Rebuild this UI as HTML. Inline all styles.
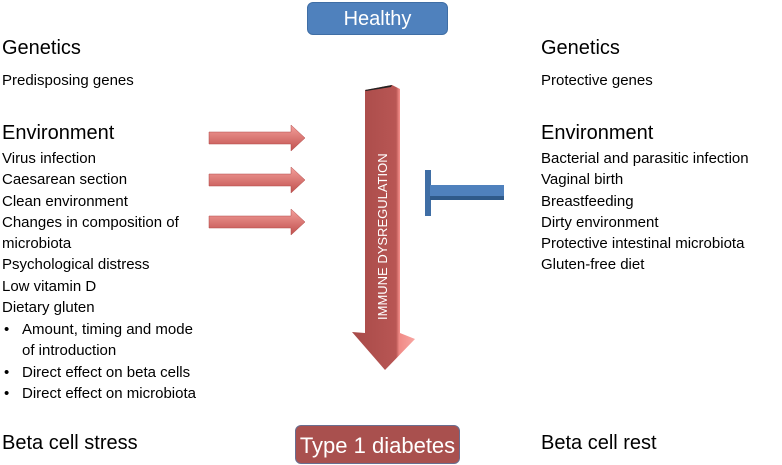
<!DOCTYPE html><html><head><style>
body{margin:0;width:782px;height:465px;background:#fff;position:relative;overflow:hidden;font-family:"Liberation Sans",sans-serif;color:#000}
.t{position:absolute;white-space:nowrap}
.h{font-size:20px}.b{font-size:15px}
</style></head><body>
<div class="t" style="left:307px;top:2px;width:141px;height:33px;background:#4f81bd;border-radius:6px;color:#fff;font-size:20px;text-align:center;line-height:33px;border:1px solid #3f6ea5;box-sizing:border-box">Healthy</div>
<div class="t" style="left:295px;top:425px;width:165px;height:39px;background:#a9504e;border-radius:6px;color:#fff;font-size:22px;text-align:center;line-height:39px;border:1px solid #6a6e90;box-sizing:border-box">Type 1 diabetes</div>

<div class="t h" style="left:2px;top:37px">Genetics</div>
<div class="t b" style="left:2px;top:72px">Predisposing genes</div>
<div class="t h" style="left:2px;top:122px">Environment</div>
<div class="t b" style="left:2px;top:148px;line-height:21.3px">Virus infection<br>Caesarean section<br>Clean environment<br>Changes in composition of<br>microbiota<br>Psychological distress<br>Low vitamin D<br>Dietary gluten</div>
<div class="t b" style="left:4px;top:319px;line-height:21.3px">•<br><br>•<br>•</div>
<div class="t b" style="left:22px;top:319px;line-height:21.3px">Amount, timing and mode<br>of introduction<br>Direct effect on beta cells<br>Direct effect on microbiota</div>
<div class="t h" style="left:2px;top:432px">Beta cell stress</div>

<div class="t h" style="left:541px;top:37px">Genetics</div>
<div class="t b" style="left:541px;top:72px">Protective genes</div>
<div class="t h" style="left:541px;top:122px">Environment</div>
<div class="t b" style="left:541px;top:148px;line-height:21.3px">Bacterial and parasitic infection<br>Vaginal birth<br>Breastfeeding<br>Dirty environment<br>Protective intestinal microbiota<br>Gluten-free diet</div>
<div class="t h" style="left:541px;top:432px">Beta cell rest</div>

<svg class="t" style="left:0;top:0" width="782" height="465">
<defs><linearGradient id="g" x1="0" y1="0" x2="0" y2="1"><stop offset="0" stop-color="#f4a09c"/><stop offset="1" stop-color="#c0504d"/></linearGradient>
<linearGradient id="v" x1="0" y1="0" x2="1" y2="0"><stop offset="0" stop-color="#a84a48"/><stop offset="0.7" stop-color="#b85654"/><stop offset="0.75" stop-color="#f08a86"/><stop offset="1" stop-color="#f8a6a2"/></linearGradient></defs>
<g fill="url(#g)" stroke="#b04a48" stroke-width="0.5">
<polygon points="209,132 291,132 291,125 305,138 291,151 291,144 209,144"/>
<polygon points="209,174 291,174 291,167 305,180 291,193 291,186 209,186"/>
<polygon points="209,216 291,216 291,209 305,222 291,235 291,228 209,228"/>
</g>
<polygon points="365,90 392,85 400,89 400,333 415,339 385,370 352,332 365,333" fill="url(#v)"/>
<polygon points="365,90 392,85 391,87 366,91" fill="#222"/>
<text transform="translate(387,320) rotate(-90)" font-size="13" fill="#fff" font-family="Liberation Sans">IMMUNE DYSREGULATION</text>
<rect x="425" y="170" width="6" height="46" fill="#3f6ea5"/>
<rect x="430" y="185" width="74" height="15" fill="#4f81bd"/>
<rect x="430" y="196" width="74" height="4" fill="#2f5a8a"/>
</svg>
</body></html>
